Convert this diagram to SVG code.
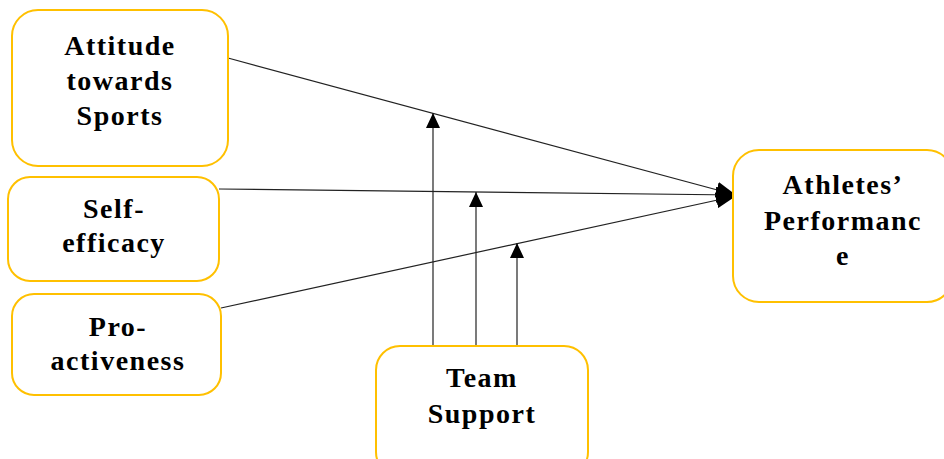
<svg xmlns="http://www.w3.org/2000/svg" width="944" height="459" viewBox="0 0 944 459">
<style>
.box{fill:#fff;stroke:#FFC000;stroke-width:2}
.t{font-family:'Liberation Serif','Tinos','DejaVu Serif','Times New Roman',Times,serif;font-weight:700;font-size:28px;letter-spacing:1.5px;text-anchor:middle;fill:#000}
.ln{stroke:#222;stroke-width:1.2;fill:none}
</style>
<defs>
<marker id="big" markerUnits="userSpaceOnUse" markerWidth="22" markerHeight="16" refX="20" refY="8" orient="auto">
<path d="M0,0 L20,8 L0,16 Z" fill="#000"/>
</marker>
<marker id="sm" markerUnits="userSpaceOnUse" markerWidth="16" markerHeight="16" refX="15" refY="7" orient="auto">
<path d="M0,0 L15,7 L0,14 Z" fill="#000"/>
</marker>
</defs>
<rect width="944" height="459" fill="#fff"/>
<g id="connectors">
<line class="ln" x1="228" y1="58" x2="736" y2="195" marker-end="url(#big)"/>
<line class="ln" x1="219" y1="189" x2="736" y2="195" marker-end="url(#big)"/>
<line class="ln" x1="221" y1="308" x2="736" y2="196" marker-end="url(#big)"/>
<line class="ln" x1="433" y1="346" x2="433" y2="113" marker-end="url(#sm)"/>
<line class="ln" x1="476" y1="346" x2="476" y2="192" marker-end="url(#sm)"/>
<line class="ln" x1="517" y1="346" x2="517" y2="243" marker-end="url(#sm)"/>
</g>
<g id="attitude">
<rect class="box" x="12" y="10" width="216" height="156" rx="26"/>
<text class="t" x="120" y="55">Attitude</text>
<text class="t" x="120" y="90">towards</text>
<text class="t" x="120" y="125">Sports</text>
</g>
<g id="selfefficacy">
<rect class="box" x="8" y="177" width="211" height="104" rx="22"/>
<text class="t" x="114" y="218">Self-</text>
<text class="t" x="114" y="252">efficacy</text>
</g>
<g id="proactiveness">
<rect class="box" x="12" y="294" width="209" height="101" rx="22"/>
<text class="t" x="118" y="336">Pro-</text>
<text class="t" x="118" y="370">activeness</text>
</g>
<g id="performance">
<rect class="box" x="733" y="150" width="220" height="152" rx="26"/>
<text class="t" x="843" y="194">Athletes’</text>
<text class="t" x="843" y="230">Performanc</text>
<text class="t" x="843" y="265">e</text>
</g>
<g id="teamsupport">
<rect class="box" x="376" y="346" width="212" height="130" rx="24"/>
<text class="t" x="482" y="387">Team</text>
<text class="t" x="482" y="423">Support</text>
</g>
</svg>
